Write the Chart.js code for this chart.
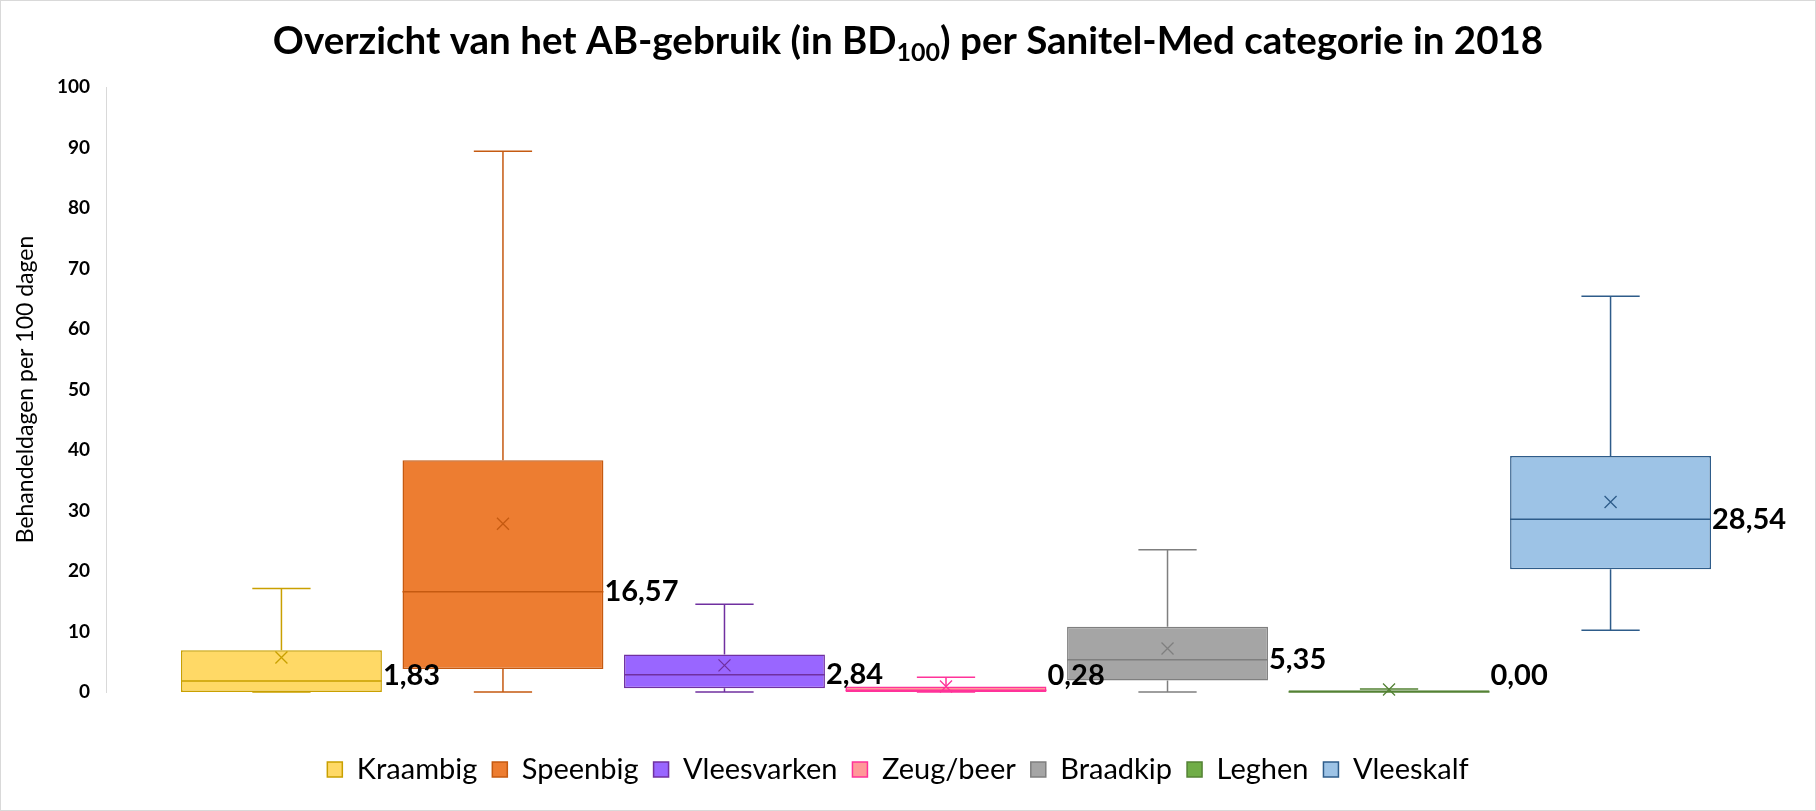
<!DOCTYPE html>
<html>
<head>
<meta charset="utf-8">
<title>AB-gebruik per Sanitel-Med categorie 2018</title>
<script src="https://cdn.jsdelivr.net/npm/chart.js@4.4.1/dist/chart.umd.min.js"></script>
<style>
  body { margin: 0; background: #fff; }
  #wrap { width: 1814px; height: 809px; border: 1px solid #d9d9d9; position: relative; }
</style>
</head>
<body>
<div id="wrap"><canvas id="boxChart"></canvas></div>
<script>
const categories = ["Kraambig", "Speenbig", "Vleesvarken", "Zeug/beer", "Braadkip", "Leghen", "Vleeskalf"];
const lowWhisker    = [0,    0,     0,    0,    0,    0,    10.2];
const lowerQuartile = [0,    3.8,   0.6,  0,    1.9,  0,    20.3];
const medians       = [1.83, 16.57, 2.84, 0.28, 5.35, 0.00, 28.54];
const upperQuartile = [6.9,  38.3,  6.2,  0.9,  10.8, 0.3,  39.0];
const highWhisker   = [17.1, 89.4,  14.5, 2.45, 23.5, 0.5,  65.4];
const means         = [5.7,  27.8,  4.4,  0.9,  7.2,  0.4,  31.4];
const yTicks = [0, 10, 20, 30, 40, 50, 60, 70, 80, 90, 100];

const fillColors = ["#FFD966", "#ED7D31", "#9966FF", "#FF9999", "#A5A5A5", "#70AD47", "#9DC3E6"];
const lineColors = ["#C9A000", "#C55A11", "#7030A0", "#FF3399", "#7F7F7F", "#548235", "#2E5C8A"];

const datasets = categories.map((name, i) => ({
  label: name,
  data: [[lowerQuartile[i], upperQuartile[i]]],
  backgroundColor: fillColors[i],
  borderColor: lineColors[i],
  borderWidth: 1.5,
  borderSkipped: false,
  categoryPercentage: 0.923,
  barPercentage: 0.907
}));

// whiskers, median, mean cross and median label on top of the floating bars
const boxDetails = {
  id: 'boxDetails',
  afterDatasetsDraw(chart) {
    const ctx = chart.ctx;
    const y = chart.scales.y;
    const area = chart.chartArea;
    chart.data.datasets.forEach((ds, i) => {
      const bar = chart.getDatasetMeta(i).data[0];
      const cx = bar.x;
      const half = bar.width / 2;
      const cap = bar.width * 0.145;
      const yMin = y.getPixelForValue(lowWhisker[i]);
      const yQ1 = y.getPixelForValue(lowerQuartile[i]);
      const yMed = y.getPixelForValue(medians[i]);
      const yQ3 = y.getPixelForValue(upperQuartile[i]);
      const yMax = y.getPixelForValue(highWhisker[i]);
      const yMean = y.getPixelForValue(means[i]);

      ctx.save();
      ctx.strokeStyle = lineColors[i];
      ctx.lineWidth = 1.5;
      ctx.beginPath();
      ctx.moveTo(cx, yQ3); ctx.lineTo(cx, yMax);
      ctx.moveTo(cx - cap, yMax); ctx.lineTo(cx + cap, yMax);
      ctx.moveTo(cx, yQ1); ctx.lineTo(cx, yMin);
      ctx.moveTo(cx - cap, yMin); ctx.lineTo(cx + cap, yMin);
      ctx.moveTo(cx - half, yMed); ctx.lineTo(cx + half, yMed);
      ctx.stroke();

      // mean marker
      ctx.lineWidth = 1.3;
      ctx.beginPath();
      ctx.moveTo(cx - 6, yMean - 6); ctx.lineTo(cx + 6, yMean + 6);
      ctx.moveTo(cx + 6, yMean - 6); ctx.lineTo(cx - 6, yMean + 6);
      ctx.stroke();

      // median label
      ctx.fillStyle = "#000";
      ctx.font = "bold 29px Lato";
      ctx.textAlign = "left";
      ctx.textBaseline = "middle";
      const labelY = Math.min(yMed, area.bottom - 16);
      ctx.fillText(medians[i].toFixed(2).replace(".", ","), cx + half + 1, labelY);
      ctx.restore();
    });
  }
};

// title with subscript 100
const titleWithSub = {
  id: 'titleWithSub',
  afterDraw(chart) {
    const ctx = chart.ctx;
    const parts = [
      ["Overzicht van het AB-gebruik (in BD", false],
      ["100", true],
      [") per Sanitel-Med categorie in 2018", false]
    ];
    const bigFont = "bold 38.5px Lato";
    const smallFont = "bold 25px Lato";
    ctx.save();
    ctx.fillStyle = "#000";
    ctx.textBaseline = "alphabetic";
    ctx.textAlign = "left";
    let total = 0;
    parts.forEach(p => { ctx.font = p[1] ? smallFont : bigFont; total += ctx.measureText(p[0]).width; });
    let x = chart.width / 2 - total / 2;
    parts.forEach(p => {
      ctx.font = p[1] ? smallFont : bigFont;
      ctx.fillText(p[0], x, p[1] ? 60 : 53);
      x += ctx.measureText(p[0]).width;
    });
    ctx.restore();
  }
};

const chart = new Chart(document.getElementById("boxChart"), {
  type: "bar",
  data: { labels: ["2018"], datasets: datasets },
  options: {
    responsive: true,
    maintainAspectRatio: false,
    animation: false,
    layout: { padding: { top: 86, left: 9, right: 29, bottom: 16 } },
    plugins: {
      legend: {
        position: "bottom",
        labels: {
          font: { family: "Lato", size: 29 },
          color: "#000",
          boxWidth: 15,
          boxHeight: 15,
          padding: 15
        }
      },
      title: { display: false },
      tooltip: { enabled: false }
    },
    scales: {
      x: {
        display: true,
        grid: { display: false },
        border: { display: false },
        ticks: { display: false },
        afterFit: (axis) => { axis.height = 48; }
      },
      y: {
        min: 0,
        max: 100,
        afterBuildTicks: (axis) => { axis.ticks = yTicks.map(v => ({ value: v })); },
        afterFit: (axis) => { axis.width = 96; },
        grid: { display: false, drawTicks: false },
        border: { display: true, color: "#d9d9d9", width: 1 },
        ticks: {
          padding: 16,
          color: "#000",
          font: { family: "Lato", size: 19, weight: "bold" }
        },
        title: {
          display: true,
          text: "Behandeldagen per 100 dagen",
          color: "#000",
          font: { family: "Lato", size: 23 },
          padding: { top: 2, bottom: 4 }
        }
      }
    }
  },
  plugins: [boxDetails, titleWithSub]
});
</script>
</body>
</html>
